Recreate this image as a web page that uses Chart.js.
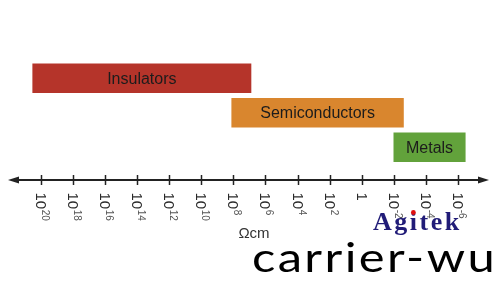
<!DOCTYPE html>
<html>
<head>
<meta charset="utf-8">
<script src="https://cdn.jsdelivr.net/npm/chart.js@4.4.1/dist/chart.umd.min.js"></script>
<style>
  html, body { margin: 0; padding: 0; background: #ffffff; }
  #wrap { width: 500px; height: 300px; position: relative; }
</style>
</head>
<body>
<div id="wrap"><canvas id="c" width="500" height="300"></canvas></div>
<script>
// ---- data (exponents of resistivity in Ω·cm) ----
const categories = ['Insulators', 'Semiconductors', 'Metals'];
const rangeStart = [20.5, 8.1, -2.0];
const rangeEnd   = [6.9, -2.6, -6.45];
const barColors  = ['#B5342A', '#D9862E', '#62A23B'];
const tickValues = [20, 18, 16, 14, 12, 10, 8, 6, 4, 2, 0, -2, -4, -6];
const tickBase   = ['10','10','10','10','10','10','10','10','10','10','1','10','10','10'];
const tickSup    = ['20','18','16','14','12','10','8','6','4','2','','-2','-4','-6'];
const axisUnit   = 'Ωcm';
const watermark1 = 'Agitek';
const watermark2 = 'carrier-wu';

const rows = categories.map((name, i) => ({ x: [rangeStart[i], rangeEnd[i]], y: categories.length - i, name }));

const drawPlugin = {
  id: 'resistivityAxis',
  afterDatasetsDraw(chart) {
    const ctx = chart.ctx;
    const xs = chart.scales.x;
    const area = chart.chartArea;
    const y0 = area.bottom;
    ctx.save();

    // bar labels
    const meta = chart.getDatasetMeta(0);
    ctx.font = '16px "Liberation Sans", Arial, sans-serif';
    ctx.fillStyle = '#1c1c1c';
    ctx.textAlign = 'center';
    ctx.textBaseline = 'middle';
    meta.data.forEach((el, i) => {
      const cx = (el.x + el.base) / 2;
      ctx.fillText(categories[i], cx, el.y + 1);
    });

    // axis line
    const left = xs.left, right = xs.right;
    ctx.strokeStyle = '#222';
    ctx.lineWidth = 2;
    ctx.beginPath();
    ctx.moveTo(left + 6, y0);
    ctx.lineTo(right - 6, y0);
    ctx.stroke();
    // arrows
    ctx.fillStyle = '#222';
    ctx.beginPath();
    ctx.moveTo(left, y0); ctx.lineTo(left + 11, y0 - 3.6); ctx.lineTo(left + 11, y0 + 3.6); ctx.closePath();
    ctx.fill();
    ctx.beginPath();
    ctx.moveTo(right, y0); ctx.lineTo(right - 11, y0 - 3.6); ctx.lineTo(right - 11, y0 + 3.6); ctx.closePath();
    ctx.fill();

    // ticks + labels
    tickValues.forEach((v, i) => {
      const px = Math.round(xs.getPixelForValue(v)) + 0.5;
      ctx.strokeStyle = '#222';
      ctx.lineWidth = 1.5;
      ctx.beginPath();
      ctx.moveTo(px, y0 - 5);
      ctx.lineTo(px, y0 + 5);
      ctx.stroke();

      ctx.save();
      ctx.translate(px, y0 + 12.5);
      ctx.rotate(Math.PI / 2);
      ctx.textAlign = 'left';
      ctx.textBaseline = 'middle';
      ctx.font = '15px "Liberation Sans", Arial, sans-serif';
      ctx.fillStyle = '#2a2a2a';
      ctx.fillText(tickBase[i], 0, 1.5);
      const w = ctx.measureText(tickBase[i]).width;
      if (tickSup[i]) {
        ctx.font = '10px "Liberation Sans", Arial, sans-serif';
        ctx.fillStyle = '#555';
        ctx.fillText(tickSup[i], w + 0.5, -2.8);
      }
      ctx.restore();
    });

    // unit label
    ctx.font = '15px "Liberation Sans", Arial, sans-serif';
    ctx.fillStyle = '#333';
    ctx.textAlign = 'center';
    ctx.textBaseline = 'alphabetic';
    ctx.fillText(axisUnit, 254, 238);

    // watermark: Agitek
    ctx.font = 'bold 26px "Liberation Serif", "Times New Roman", serif';
    ctx.fillStyle = '#211c78';
    ctx.textAlign = 'left';
    ctx.textBaseline = 'alphabetic';
    ctx.letterSpacing = '2.5px';
    ctx.fillText(watermark1, 373, 229.5);
    const wAg = ctx.measureText('Ag').width;
    ctx.letterSpacing = '0px';
    const wi = ctx.measureText('i').width;
    ctx.fillStyle = '#e01010';
    ctx.beginPath();
    ctx.arc(373 + wAg + wi / 2, 212.5, 2.4, 0, Math.PI * 2);
    ctx.fill();

    // watermark: carrier-wu
    ctx.font = '400 41px Lato, "Liberation Sans", sans-serif';
    ctx.fillStyle = '#000';
    ctx.letterSpacing = '2px';
    const wc = ctx.measureText(watermark2).width;
    ctx.save();
    ctx.translate(252, 271.5);
    ctx.scale(245 / wc, 1);
    ctx.fillText(watermark2, 0, 0);
    ctx.restore();
    ctx.letterSpacing = '0px';

    ctx.restore();
  }
};

new Chart(document.getElementById('c'), {
  type: 'bar',
  data: {
    datasets: [{
      data: rows,
      backgroundColor: barColors,
      borderWidth: 0,
      borderSkipped: false,
      barThickness: 29
    }]
  },
  options: {
    indexAxis: 'y',
    responsive: false,
    animation: false,
    layout: { padding: { left: 8, right: 11, top: 42, bottom: 120 } },
    scales: {
      x: { type: 'linear', reverse: true, min: -7.93, max: 22.04, display: false, offset: false },
      y: { type: 'linear', min: 0.05, max: 4.05, display: false, offset: false, grid: { offset: false } }
    },
    plugins: { legend: { display: false }, tooltip: { enabled: false } }
  },
  plugins: [drawPlugin]
});
</script>
</body>
</html>
